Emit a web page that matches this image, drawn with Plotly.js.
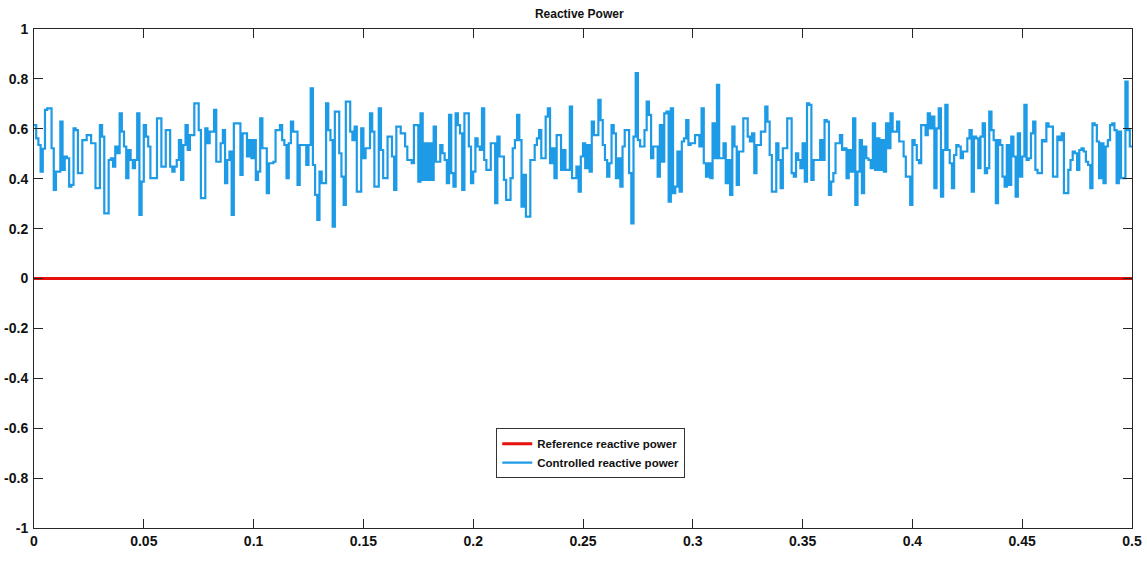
<!DOCTYPE html>
<html>
<head>
<meta charset="utf-8">
<script src="https://cdn.plot.ly/plotly-3.0.1.min.js"></script>
<style>
  html, body { margin: 0; padding: 0; background: #fff; }
  #chart { width: 1147px; height: 563px; }
</style>
</head>
<body>
<div id="chart"></div>
<script>
// Sample period of the controlled signal (s)
const sampleTime = 0.001;

// Controlled reactive power samples (one per sample period)
const qSeg1 = [0.615,0.562,0.535,0.428,0.52,0.676,0.682,0.682,0.522,0.355,
  0.428,0.428,0.629,0.435,0.489,0.482,0.368,0.375,0.602,0.595,
  0.422,0.422,0.555,0.555,0.575,0.575,0.542,0.542,0.362,0.362,
  0.615,0.569,0.261,0.261,0.475,0.482,0.448,0.529,0.502,0.662,
  0.589,0.529,0.402,0.515,0.475,0.442,0.475,0.662,0.255,0.388,
  0.615,0.569,0.529,0.402,0.402,0.402,0.642,0.642,0.448,0.448,
  0.595,0.595];
const qSeg2 = [0.448,0.428,0.448,0.475,0.555,0.395,0.535,0.615,0.515,0.575,
  0.575,0.702,0.702,0.595,0.322,0.322,0.602,0.542,0.589,0.589,
  0.676,0.468,0.468,0.542,0.595,0.382,0.475,0.509,0.255,0.622,
  0.622,0.622,0.415,0.582,0.582,0.489,0.555,0.482,0.555,0.395,
  0.428,0.642,0.522,0.522,0.342,0.462,0.462,0.468,0.595,0.595,
  0.615,0.555,0.535,0.402,0.542,0.629,0.589,0.589,0.375,0.535,
  0.535];
const qSeg3 = [0.535,0.455,0.535,0.762,0.455,0.335,0.235,0.428,0.382,0.382,
  0.702,0.595,0.555,0.208,0.669,0.669,0.502,0.408,0.295,0.709,
  0.709,0.589,0.555,0.609,0.348,0.348,0.602,0.482,0.522,0.522,
  0.662,0.589,0.368,0.368,0.682,0.515,0.402,0.402,0.569,0.569,
  0.489,0.355,0.609,0.609,0.582,0.582,0.529,0.475,0.475,0.462,
  0.615,0.615,0.388,0.662,0.395,0.542,0.395,0.542,0.395,0.609,
  0.468,0.468];
const qSeg4 = [0.535,0.502,0.475,0.382,0.656,0.422,0.368,0.662,0.615,0.582,
  0.355,0.662,0.662,0.529,0.382,0.428,0.562,0.529,0.515,0.682,
  0.475,0.435,0.435,0.542,0.542,0.302,0.569,0.489,0.489,0.395,
  0.315,0.315,0.402,0.522,0.555,0.656,0.555,0.288,0.415,0.248,
  0.248,0.475,0.475,0.535,0.562,0.595,0.482,0.482,0.649,0.682,
  0.462,0.522,0.402,0.575,0.575,0.435,0.515,0.435,0.435,0.689,
  0.402];
const qSeg5 = [0.402,0.448,0.348,0.489,0.542,0.442,0.535,0.428,0.629,0.575,
  0.575,0.716,0.635,0.535,0.475,0.408,0.462,0.615,0.582,0.402,
  0.482,0.368,0.529,0.595,0.595,0.422,0.221,0.569,0.823,0.555,
  0.529,0.529,0.595,0.709,0.656,0.482,0.529,0.529,0.408,0.615,
  0.468,0.662,0.669,0.308,0.682,0.342,0.368,0.509,0.348,0.549,
  0.562,0.635,0.535,0.542,0.542,0.575,0.575,0.529,0.682,0.462,
  0.408];
const qSeg6 = [0.462,0.402,0.622,0.482,0.776,0.482,0.482,0.542,0.382,0.475,
  0.335,0.609,0.529,0.375,0.509,0.509,0.642,0.642,0.569,0.549,
  0.582,0.422,0.535,0.535,0.589,0.589,0.689,0.629,0.495,0.348,
  0.348,0.542,0.475,0.362,0.522,0.522,0.642,0.642,0.422,0.408,
  0.502,0.475,0.442,0.542,0.388,0.702,0.696,0.395,0.475,0.475,
  0.475,0.555,0.475,0.635,0.629,0.335,0.388,0.422,0.542,0.542,
  0.575,0.515];
const qSeg7 = [0.522,0.402,0.515,0.428,0.642,0.295,0.428,0.555,0.342,0.529,
  0.482,0.475,0.442,0.622,0.435,0.562,0.435,0.555,0.428,0.622,
  0.522,0.662,0.589,0.589,0.629,0.549,0.549,0.489,0.408,0.408,
  0.295,0.555,0.535,0.475,0.462,0.615,0.615,0.575,0.662,0.602,
  0.649,0.362,0.602,0.682,0.328,0.515,0.696,0.515,0.462,0.362,
  0.495,0.535,0.529,0.482,0.509,0.509,0.562,0.595,0.348,0.569,
  0.562];
const qSeg8 = [0.442,0.569,0.622,0.422,0.442,0.669,0.595,0.555,0.302,0.555,
  0.535,0.408,0.368,0.535,0.375,0.569,0.489,0.328,0.582,0.408,
  0.489,0.696,0.475,0.482,0.582,0.629,0.435,0.422,0.422,0.555,
  0.549,0.622,0.609,0.609,0.408,0.408,0.569,0.555,0.582,0.342,
  0.342,0.435,0.475,0.509,0.502,0.435,0.515,0.522,0.509,0.468,
  0.455,0.362,0.622,0.615,0.549,0.402,0.542,0.382,0.529,0.555,
  0.615,0.622,0.595,0.382,0.589,0.402,0.402,0.789,0.595,0.529];

// Reference reactive power (constant setpoint)
const refTime = [0, 0.5];
const refValue = [0, 0];

// Axis ticks
const xTicks = [0, 0.05, 0.1, 0.15, 0.2, 0.25, 0.3, 0.35, 0.4, 0.45, 0.5];
const xTickText = ['0','0.05','0.1','0.15','0.2','0.25','0.3','0.35','0.4','0.45','0.5'];
const yTicks = [-1, -0.8, -0.6, -0.4, -0.2, 0, 0.2, 0.4, 0.6, 0.8, 1];
const yTickText = ['-1','-0.8','-0.6','-0.4','-0.2','0','0.2','0.4','0.6','0.8','1'];

const qValues = [].concat(qSeg1, qSeg2, qSeg3, qSeg4, qSeg5, qSeg6, qSeg7, qSeg8);
const qTime = qValues.map((_, i) => i * sampleTime);
qTime.push(qValues.length * sampleTime);
const qPlot = qValues.concat([qValues[qValues.length - 1]]);

const FONT = '"Liberation Sans Narrow", "Arial Narrow", "Liberation Sans", Arial, sans-serif';

const traces = [
  {
    x: refTime, y: refValue, type: 'scatter', mode: 'lines',
    name: 'Reference reactive power',
    line: { color: '#e8100c', width: 3 }
  },
  {
    x: qTime, y: qPlot, type: 'scatter', mode: 'lines',
    name: 'Controlled reactive power',
    line: { color: '#1e9be6', width: 2.2, shape: 'hv' }
  }
];

const axisCommon = {
  showgrid: false, zeroline: false,
  showline: true, linecolor: '#262626', linewidth: 1, mirror: 'ticks',
  ticks: 'inside', ticklen: 9, tickwidth: 1, tickcolor: '#262626',
  tickfont: { family: FONT, size: 14, color: '#111', weight: 'bold' }
};

const layout = {
  width: 1147, height: 563,
  margin: { l: 34, r: 15, t: 29, b: 35 },
  paper_bgcolor: '#ffffff', plot_bgcolor: '#ffffff',
  showlegend: true,
  title: {
    text: 'Reactive Power',
    font: { family: FONT, size: 12, color: '#111', weight: 'bold' },
    x: 0.505, xanchor: 'center', y: 0.975, yanchor: 'middle'
  },
  xaxis: Object.assign({}, axisCommon, {
    range: [0, 0.5], tickmode: 'array', tickvals: xTicks, ticktext: xTickText
  }),
  yaxis: Object.assign({}, axisCommon, {
    range: [-1, 1], tickmode: 'array', tickvals: yTicks, ticktext: yTickText,
    ticklabelstandoff: 2
  }),
  legend: {
    x: 0.421, xanchor: 'left', y: 0.2, yanchor: 'top',
    bgcolor: '#ffffff', bordercolor: '#333333', borderwidth: 1,
    font: { family: FONT, size: 11.5, color: '#111', weight: 'bold' },
    tracegroupgap: 0
  },
  hovermode: false
};

Plotly.newPlot('chart', traces, layout, { displayModeBar: false, staticPlot: true });
</script>
</body>
</html>
